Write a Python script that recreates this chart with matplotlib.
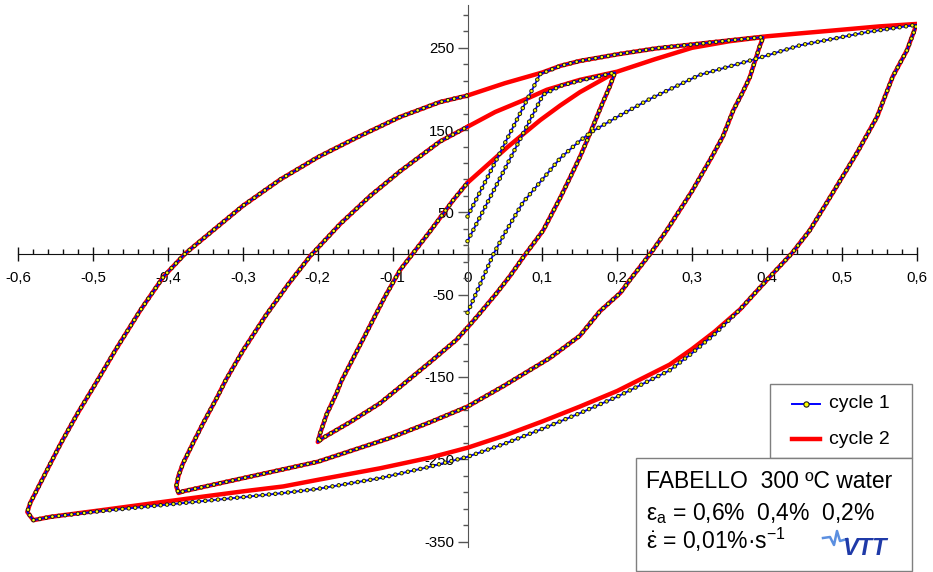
import numpy as np
import matplotlib
matplotlib.use("Agg")
import matplotlib.pyplot as plt
from matplotlib.lines import Line2D
from matplotlib.patches import Rectangle
from matplotlib.ticker import MultipleLocator, FixedLocator, FuncFormatter

plt.rcParams['font.family'] = ['Liberation Sans', 'DejaVu Sans']
plt.rcParams['mathtext.fontset'] = 'custom'
plt.rcParams['mathtext.rm'] = 'Liberation Sans'
plt.rcParams['mathtext.it'] = 'Liberation Sans:italic'
plt.rcParams['mathtext.bf'] = 'Liberation Sans:bold'
plt.rcParams['lines.scale_dashes'] = False

# ---- strain (%) / stress (MPa) data -------------------------------------
# 0.6 % amplitude
e06_load1 = [0, 0.035, 0.05, 0.074, 0.1, 0.124, 0.15, 0.166, 0.2, 0.244, 0.31,
             0.387, 0.444, 0.5, 0.533, 0.6]
s06_load1 = [-72, 0, 25, 62, 90, 116, 137, 148, 166, 188, 217, 237, 253, 263,
             269, 278]
e06_load2 = [0, 0.05, 0.1, 0.124, 0.15, 0.2, 0.25, 0.3, 0.35, 0.4, 0.45, 0.488,
             0.55, 0.6]
s06_load2 = [192, 207, 220, 228, 234, 242, 249, 254, 259, 264, 268, 271, 276, 279]
e06_down1 = [0.6, 0.587, 0.568, 0.547, 0.52, 0.5, 0.48, 0.457, 0.433, 0.4, 0.364,
             0.33, 0.3, 0.27, 0.2, 0.15, 0.1, 0.05, 0, -0.05, -0.117, -0.2,
             -0.246, -0.3, -0.4, -0.49, -0.557, -0.58, -0.588]
s06_down1 = [278, 247, 215, 166, 122, 92, 62, 28, 0, -32, -68, -98, -121, -142,
             -174, -194, -213, -231, -247, -259, -273, -286, -291, -296, -305,
             -313, -320, -324, -314]
e06_down2 = [0.6, 0.587, 0.568, 0.547, 0.52, 0.5, 0.48, 0.457, 0.433, 0.4, 0.364,
             0.33, 0.3, 0.27, 0.2, 0.15, 0.1, 0.05, 0, -0.05, -0.117, -0.2,
             -0.246, -0.3, -0.4, -0.49, -0.557, -0.58, -0.588]
s06_down2 = [279, 247, 215, 166, 122, 92, 62, 28, 0, -32, -68, -95, -116, -135,
             -167, -186, -204, -221, -236, -248, -261, -275, -283, -289, -301,
             -312, -320, -324, -314]
e06_up = [-0.588, -0.584, -0.575, -0.566, -0.557, -0.548, -0.541, -0.52, -0.5,
          -0.47, -0.437, -0.406, -0.377, -0.34, -0.3, -0.25, -0.2, -0.15, -0.09,
          -0.037, 0]
s06_up = [-314, -303, -287, -271, -255, -239, -227, -193, -163, -117, -69, -28,
          0, 28, 58, 90, 117, 140, 166, 184, 192]

# 0.4 % amplitude
e04_load1 = [0, 0.097, 0.124, 0.15, 0.2, 0.257, 0.3, 0.35, 0.395]
s04_load1 = [45, 218, 228, 234, 242, 250, 254, 259, 263]
e04_load2 = [0, 0.037, 0.074, 0.106, 0.15, 0.2, 0.25, 0.3, 0.35, 0.395]
s04_load2 = [154, 172, 186, 199, 211, 221, 236, 250, 258, 263]
e04_down = [0.395, 0.39, 0.377, 0.367, 0.355, 0.341, 0.326, 0.3, 0.266, 0.246,
            0.217, 0.204, 0.177, 0.15, 0.11, 0.05, 0, -0.05, -0.103, -0.2, -0.29,
            -0.34, -0.38, -0.386]
s04_down = [263, 251, 214, 195, 174, 142, 117, 76, 28, 2, -32, -48, -70, -100,
            -127, -160, -186, -205, -224, -253, -271, -281, -289, -291]
e04_up = [-0.386, -0.389, -0.386, -0.38, -0.367, -0.353, -0.334, -0.323, -0.3,
          -0.27, -0.24, -0.21, -0.17, -0.13, -0.09, -0.037, 0]
s04_up = [-291, -283, -270, -255, -231, -206, -174, -154, -118, -76, -38, -3, 36,
          70, 100, 136, 154]

# 0.2 % amplitude
e02_load1 = [0, 0.101, 0.125, 0.15, 0.197]
s02_load1 = [15, 193, 204, 210, 220]
e02_load2 = [0, 0.053, 0.097, 0.124, 0.15, 0.197]
s02_load2 = [86, 129, 162, 180, 196, 220]
e02_down = [0.197, 0.19, 0.18, 0.17, 0.16, 0.15, 0.14, 0.124, 0.101, 0.074,
            0.057, 0.039, 0.017, 0, -0.015, -0.05, -0.09, -0.117, -0.157, -0.193,
            -0.2]
s02_down = [220, 203, 182, 160, 138, 117, 98, 68, 28, -5, -27, -48, -72, -90,
            -105, -132, -162, -182, -205, -224, -229]
e02_up = [-0.2, -0.197, -0.188, -0.175, -0.168, -0.14, -0.11, -0.09, -0.073,
          -0.05, -0.019, 0]
s02_up = [-229, -219, -195, -170, -154, -105, -52, -20, 0, 27, 65, 86]

x_ticks = [-0.6, -0.5, -0.4, -0.3, -0.2, -0.1, 0, 0.1, 0.2, 0.3, 0.4, 0.5, 0.6]
y_ticks = [-350, -250, -150, -50, 50, 150, 250]
series_labels = ['cycle 1', 'cycle 2']

# ---- figure ---------------------------------------------------------------
W, H = 933, 572
fig = plt.figure(figsize=(W / 100, H / 100), dpi=100)


def fx(px):
    return px / W


def fy(py):
    return 1 - py / H


ax = fig.add_axes([fx(18.3), fy(546.5), (916.7 - 18.3) / W, (546.5 - 5) / H])
ax.set_xlim(-0.6, 0.6)
ax.set_ylim(-356, 302)

for side in ('top', 'right'):
    ax.spines[side].set_visible(False)
ax.spines['left'].set_position(('data', 0))
ax.spines['bottom'].set_position(('data', 0))
ax.spines['left'].set_color('#555555')
ax.spines['bottom'].set_color('#111111')

ax.xaxis.set_major_locator(FixedLocator(x_ticks))
ax.xaxis.set_minor_locator(MultipleLocator(0.02))
ax.yaxis.set_major_locator(FixedLocator(y_ticks))
ax.yaxis.set_minor_locator(FixedLocator(np.arange(-350, 300, 20)))


def xfmt(v, pos):
    if abs(v) < 1e-9:
        return '0'
    return f'{v:.1f}'.replace('.', ',')


ax.xaxis.set_major_formatter(FuncFormatter(xfmt))
ax.yaxis.set_major_formatter(FuncFormatter(lambda v, p: f'{v:.0f}'))

ax.tick_params(axis='x', which='major', direction='inout', length=10, width=1,
               labelsize=10.8, pad=7.5, color='#111111')
ax.tick_params(axis='x', which='minor', direction='in', length=3.5, width=1,
               color='#111111')
ax.tick_params(axis='y', which='major', direction='out', length=7, width=1,
               labelsize=10.8, pad=2.5, color='#555555')
ax.tick_params(axis='y', which='minor', direction='out', length=3.5, width=1,
               color='#555555')

BLUE = '#0000ff'
RED = '#ff0000'
DOTS = (0, (0.01, 4.6))


def cycle2(e, s):
    ax.plot(e, s, color=RED, lw=3.2, solid_joinstyle='round',
            solid_capstyle='round', zorder=3)


def cycle1(e, s):
    ax.plot(e, s, color=BLUE, lw=1.4, zorder=4)
    ax.plot(e, s, color='#1a1a1a', lw=3.3, ls=DOTS, dash_capstyle='round',
            zorder=5)
    ax.plot(e, s, color='#ffff00', lw=1.9, ls=DOTS, dash_capstyle='round',
            zorder=6)


# cycle 2 curves
cycle2(np.concatenate([e06_load2, e06_down2, e06_up]),
       np.concatenate([s06_load2, s06_down2, s06_up]))
cycle2(np.concatenate([e04_load2, e04_down, e04_up]),
       np.concatenate([s04_load2, s04_down, s04_up]))
cycle2(np.concatenate([e02_load2, e02_down, e02_up]),
       np.concatenate([s02_load2, s02_down, s02_up]))

# cycle 1 curves
cycle1(np.concatenate([e06_load1, e06_down1, e06_up]),
       np.concatenate([s06_load1, s06_down1, s06_up]))
cycle1(np.concatenate([e04_load1, e04_down, e04_up]),
       np.concatenate([s04_load1, s04_down, s04_up]))
cycle1(np.concatenate([e02_load1, e02_down, e02_up]),
       np.concatenate([s02_load1, s02_down, s02_up]))

# ---- legend box -------------------------------------------------------------
fig.add_artist(Rectangle((fx(770), fy(458)), 142 / W, 74 / H,
                         transform=fig.transFigure, facecolor='white',
                         edgecolor='#7f7f7f', lw=1.0, zorder=10))
rows = [404, 439]
fig.add_artist(Line2D([fx(792), fx(820)], [fy(rows[0])] * 2, color=BLUE, lw=1.4,
                      transform=fig.transFigure, zorder=11))
fig.add_artist(Line2D([fx(806)], [fy(rows[0])], marker='o', ms=3.8,
                      mfc='#ffff00', mec='#1a1a1a', mew=0.8, ls='none',
                      transform=fig.transFigure, zorder=12))
fig.add_artist(Line2D([fx(792), fx(820)], [fy(rows[1])] * 2, color=RED, lw=3.2,
                      transform=fig.transFigure, zorder=11))
for r, lab in zip(rows, series_labels):
    fig.text(fx(829), fy(r), lab, fontsize=14, va='center', ha='left',
             zorder=12)

# ---- info box -------------------------------------------------------------
fig.add_artist(Rectangle((fx(636), fy(571)), (912 - 636) / W, (571 - 458) / H,
                         transform=fig.transFigure, facecolor='white',
                         edgecolor='#7f7f7f', lw=1.0, zorder=10))
fig.text(fx(646), fy(488), 'FABELLO  300 ºC water', fontsize=16.5,
         va='baseline', ha='left', zorder=12)
fig.text(fx(646), fy(520), r'$\mathrm{ε}_\mathrm{a}$ = 0,6%  0,4%  0,2%',
         fontsize=16.5, va='baseline', ha='left', zorder=12)
fig.text(fx(646), fy(549), r'$\dot{\mathrm{ε}}$ = 0,01%·s$^{\mathrm{-1}}$',
         fontsize=16.5, va='baseline', ha='left', zorder=12)

# VTT logo
fig.add_artist(Line2D([fx(823), fx(830), fx(834), fx(837), fx(840), fx(847)],
                      [fy(538), fy(537), fy(545), fy(531), fy(541), fy(539)],
                      color='#5b8fe0', lw=1.8, transform=fig.transFigure,
                      zorder=12))
fig.text(fx(842), fy(555), 'VTT', fontsize=17, fontweight='bold',
         fontstyle='italic', color='#1f3aa8', va='baseline', ha='left',
         zorder=12)

fig.savefig('out.png', dpi=100)
